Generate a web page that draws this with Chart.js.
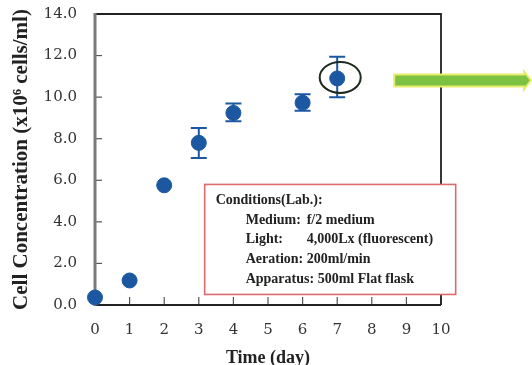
<!DOCTYPE html>
<html>
<head>
<meta charset="utf-8">
<script src="https://cdn.jsdelivr.net/npm/chart.js@4.4.1/dist/chart.umd.min.js"></script>
<style>
  body { margin: 0; background: #fff; }
  canvas { display: block; }
</style>
</head>
<body>
<canvas id="growth" width="532" height="365"></canvas>
<script>
// growth curve, values
let days = [0, 1, 2, 3, 4, 6, 7];
let conc = [0.36, 1.18, 5.76, 7.8, 9.24, 9.73, 10.9];
let errLow = [null, null, null, 7.07, 8.84, 9.34, 9.99];
let errHigh = [null, null, null, 8.52, 9.7, 10.14, 11.94];
let xTicks = [0, 1, 2, 3, 4, 5, 6, 7, 8, 9, 10];
let yTicks = [0, 2, 4, 6, 8, 10, 12, 14];
let condLines = [
  ["Conditions(Lab.):", ""],
  ["Medium:", "f/2 medium"],
  ["Light:", "4,000Lx (fluorescent)"],
  ["Aeration:", "200ml/min"],
  ["Apparatus:", "500ml Flat flask"]
];
let circledDay = 7;

let blue = "#1c58a2";
let serif = "'Liberation Serif', 'DejaVu Serif', serif";
let tickFont = "'DejaVu Serif', serif";

let points = days.map((d, i) => ({ x: d, y: conc[i] }));

// error bars, ticks, frame, circle, arrow, conditions box
let extras = {
  id: "extras",
  beforeDatasetsDraw(chart) {
    let ctx = chart.ctx, xs = chart.scales.x, ys = chart.scales.y;
    let a = chart.chartArea;
    ctx.save();
    // tick marks pointing inward
    ctx.strokeStyle = "#555";
    ctx.lineWidth = 1.2;
    xTicks.forEach(t => {
      let px = xs.getPixelForValue(t);
      ctx.beginPath(); ctx.moveTo(px, a.bottom); ctx.lineTo(px, a.bottom - 8); ctx.stroke();
    });
    yTicks.forEach(t => {
      let py = ys.getPixelForValue(t);
      ctx.beginPath(); ctx.moveTo(a.left, py); ctx.lineTo(a.left + 7, py); ctx.stroke();
    });
    // frame
    ctx.strokeStyle = "#222";
    ctx.lineWidth = 1.8;
    ctx.beginPath(); ctx.moveTo(a.left, a.top); ctx.lineTo(a.right, a.top); ctx.lineTo(a.right, a.bottom); ctx.stroke();
    ctx.lineWidth = 2.2;
    ctx.beginPath(); ctx.moveTo(a.left, a.bottom); ctx.lineTo(a.right, a.bottom); ctx.stroke();
    ctx.strokeStyle = "#7a7a7a";
    ctx.lineWidth = 3;
    ctx.beginPath(); ctx.moveTo(a.left, a.top - 1); ctx.lineTo(a.left, a.bottom + 1); ctx.stroke();

    // conditions box
    let bx = xs.getPixelForValue(3.17), by = ys.getPixelForValue(5.8);
    let bw = 251, bh = 110;
    ctx.fillStyle = "#fff";
    ctx.fillRect(bx, by, bw, bh);
    ctx.strokeStyle = "#de6a6c";
    ctx.lineWidth = 1.6;
    ctx.strokeRect(bx, by, bw, bh);
    ctx.fillStyle = "#222";
    ctx.font = "bold 14px " + serif;
    ctx.textBaseline = "middle";
    condLines.forEach((ln, i) => {
      let ty = by + 16 + i * 19.7;
      if (i === 0) {
        ctx.fillText(ln[0], bx + 11, ty);
      } else if (i >= 3) {
        ctx.fillText(ln[0] + " " + ln[1], bx + 41, ty);
      } else {
        ctx.fillText(ln[0], bx + 41, ty);
        ctx.fillText(ln[1], bx + 102, ty);
      }
    });

    // error bars
    ctx.strokeStyle = blue;
    ctx.lineWidth = 2;
    days.forEach((d, i) => {
      if (errLow[i] == null) return;
      let px = xs.getPixelForValue(d);
      let lo = ys.getPixelForValue(errLow[i]), hi = ys.getPixelForValue(errHigh[i]);
      ctx.beginPath();
      ctx.moveTo(px, lo); ctx.lineTo(px, hi);
      ctx.moveTo(px - 8, lo); ctx.lineTo(px + 8, lo);
      ctx.moveTo(px - 8, hi); ctx.lineTo(px + 8, hi);
      ctx.stroke();
    });
    ctx.restore();
  },
  afterDraw(chart) {
    let ctx = chart.ctx, xs = chart.scales.x, ys = chart.scales.y;
    let a = chart.chartArea;
    ctx.save();
    // circle round the last point
    let i7 = days.indexOf(circledDay);
    let cx = xs.getPixelForValue(circledDay) + 3, cy = ys.getPixelForValue(conc[i7]) - 1;
    ctx.strokeStyle = "#1e2a1e";
    ctx.lineWidth = 2;
    ctx.beginPath();
    ctx.ellipse(cx, cy, 20.5, 15.5, 0, 0, Math.PI * 2);
    ctx.stroke();

    // green arrow
    let ay = cy + 3, ax0 = cx + 54, ax1 = 531;
    ctx.fillStyle = "#7cc142";
    ctx.strokeStyle = "#e4ee6a";
    ctx.lineWidth = 2;
    ctx.beginPath();
    ctx.moveTo(ax0, ay - 6);
    ctx.lineTo(ax1 - 7, ay - 6);
    ctx.lineTo(ax1 - 7, ay - 9);
    ctx.lineTo(ax1, ay);
    ctx.lineTo(ax1 - 7, ay + 9);
    ctx.lineTo(ax1 - 7, ay + 6);
    ctx.lineTo(ax0, ay + 6);
    ctx.closePath();
    ctx.fill();
    ctx.stroke();

    // x axis title (cut by the bottom edge)
    ctx.fillStyle = "#222";
    ctx.font = "bold 18px " + serif;
    ctx.textAlign = "center";
    ctx.textBaseline = "middle";
    ctx.fillText("Time (day)", (a.left + a.right) / 2, 358);
    ctx.restore();
  }
};

let ctx = document.getElementById("growth").getContext("2d");
let chart = new Chart(ctx, {
  type: "scatter",
  data: {
    datasets: [{
      label: "cells",
      data: points,
      backgroundColor: blue,
      borderColor: blue,
      pointRadius: 7.5,
      pointHoverRadius: 7.5,
      clip: false
    }]
  },
  options: {
    responsive: false,
    animation: false,
    layout: { autoPadding: false, padding: { top: 14, right: 91, left: 0, bottom: 0 } },
    plugins: { legend: { display: false }, tooltip: { enabled: false } },
    scales: {
      x: {
        type: "linear",
        min: 0, max: 10,
        afterBuildTicks: s => { s.ticks = xTicks.map(v => ({ value: v })); },
        afterFit: s => { s.height = 60; s.paddingLeft = 0; s.paddingRight = 0; },
        grid: { display: false, drawTicks: false },
        border: { display: false },
        ticks: { color: "#333", padding: 16, font: { family: tickFont, size: 15 } }
      },
      y: {
        min: 0, max: 14,
        afterBuildTicks: s => { s.ticks = yTicks.map(v => ({ value: v })); },
        afterFit: s => { s.width = 95; s.paddingTop = 0; s.paddingBottom = 0; },
        grid: { display: false, drawTicks: false },
        border: { display: false },
        ticks: {
          color: "#333", padding: 18, font: { family: tickFont, size: 15 },
          callback: v => v.toFixed(1)
        },
        title: {
          display: true,
          text: "Cell Concentration (x10\u2076 cells/ml)",
          color: "#222",
          padding: { top: 9, bottom: 0 },
          font: { family: serif, size: 21, weight: "bold" }
        }
      }
    }
  },
  plugins: [extras]
});
</script>
</body>
</html>
